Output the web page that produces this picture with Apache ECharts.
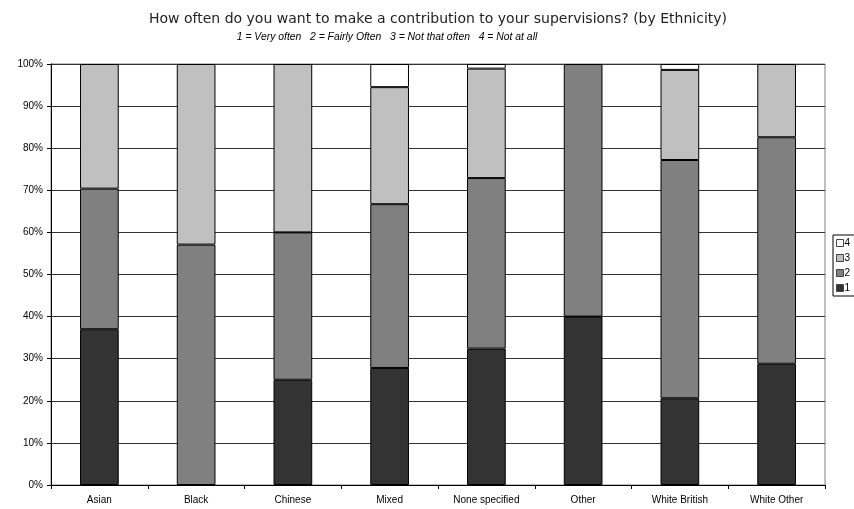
<!DOCTYPE html>
<html>
<head>
<meta charset="utf-8">
<script src="https://cdn.jsdelivr.net/npm/echarts@6/dist/echarts.min.js"></script>
<style>
  html, body { margin: 0; padding: 0; background: #fff; }
  #chart { width: 854px; height: 509px; }
</style>
</head>
<body>
<div id="chart"></div>
<script>
// ---------------------- Data ----------------------
let categories = ["Asian", "Black", "Chinese", "Mixed", "None specified", "Other", "White British", "White Other"];
let very_often     = [37.0,  0.0, 25.0, 27.8, 32.4, 40.0, 20.6, 28.8];
let fairly_often   = [33.4, 57.1, 35.0, 38.9, 40.5, 60.0, 56.6, 53.8];
let not_that_often = [29.6, 42.9, 40.0, 27.8, 26.0,  0.0, 21.4, 17.4];
let not_at_all     = [ 0.0,  0.0,  0.0,  5.5,  1.1,  0.0,  1.4,  0.0];
let y_tick_labels  = [0, 10, 20, 30, 40, 50, 60, 70, 80, 90, 100];

// ---------------------- Chart ----------------------
let chart = echarts.init(document.getElementById("chart"));
let font = "Liberation Sans, Arial, sans-serif";

let bar_style = function (color) {
    return { color: color, borderColor: "#000", borderWidth: 1 };
};
let make_series = function (name, values, color) {
    return {
        name: name,
        type: "bar",
        stack: "one",
        barWidth: "40%",
        data: values.map(function (v) { return v === 0 ? "-" : v; }),
        itemStyle: bar_style(color),
        emphasis: { disabled: true }
    };
};

let option = {
    backgroundColor: "#fff",
    animation: false,
    textStyle: { fontFamily: font },
    title: [
        {
            text: "How often do you want to make a contribution to your supervisions? (by Ethnicity)",
            left: 433, top: 7, textAlign: "center",
            textStyle: { fontFamily: "DejaVu Sans", fontSize: 14, fontWeight: "normal", color: "#222" }
        },
        {
            text: "1 = Very often   2 = Fairly Often   3 = Not that often   4 = Not at all",
            left: 382, top: 27, textAlign: "center",
            textStyle: { fontFamily: font, fontSize: 10.4, fontStyle: "italic", fontWeight: "normal", color: "#000" }
        }
    ],
    grid: {
        left: 51, right: 29, top: 64, bottom: 24,
        show: true, borderColor: "#808080", borderWidth: 1
    },
    legend: {
        orient: "vertical",
        left: 833, top: 235,
        data: ["4", "3", "2", "1"],
        itemWidth: 7, itemHeight: 7, itemGap: 5,
        icon: "rect",
        padding: [3, 20, 3, 3],
        borderColor: "#000", borderWidth: 1,
        itemStyle: { borderColor: "#444", borderWidth: 1 },
        textStyle: { fontFamily: font, fontSize: 10, color: "#000", padding: [0, 0, 0, -4] }
    },
    xAxis: {
        type: "category",
        data: categories,
        axisLine: { lineStyle: { color: "#000", width: 1 } },
        axisTick: { show: true, length: 4, lineStyle: { color: "#000" } },
        axisLabel: { fontFamily: font, fontSize: 10, color: "#000", margin: 10 },
        splitLine: { show: false }
    },
    yAxis: {
        type: "value",
        min: y_tick_labels[0],
        max: y_tick_labels[y_tick_labels.length - 1],
        interval: 10,
        axisLine: { show: true, lineStyle: { color: "#000", width: 1 } },
        axisTick: { show: true, length: 4, lineStyle: { color: "#000" } },
        axisLabel: { fontFamily: font, fontSize: 10, color: "#000", margin: 8, formatter: "{value}%" },
        splitLine: { show: true, lineStyle: { color: "#333", width: 1 } }
    },
    series: [
        make_series("1", very_often, "#333333"),
        make_series("2", fairly_often, "#808080"),
        make_series("3", not_that_often, "#c0c0c0"),
        make_series("4", not_at_all, "#ffffff")
    ]
};

chart.setOption(option, true);
</script>
</body>
</html>
